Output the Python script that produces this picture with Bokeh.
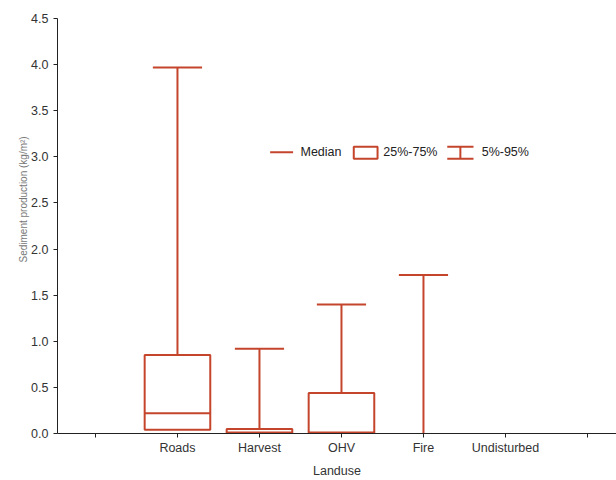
from bokeh.plotting import figure
from bokeh.models import ColumnDataSource, FixedTicker, Title, CustomJSTickFormatter
from bokeh.core.properties import value
from bokeh.embed import file_html
from bokeh.resources import INLINE

# ---- data ----
categories = ["Roads", "Harvest", "OHV", "Fire", "Undisturbed"]
p5 = [0.0, 0.0, 0.0, 0.0, 0.0]
q1 = [0.04, 0.0, 0.0, 0.0, 0.0]
median = [0.22, 0.01, 0.01, 0.0, 0.0]
q3 = [0.85, 0.05, 0.44, 0.0, 0.0]
p95 = [3.97, 0.92, 1.40, 1.72, 0.0]
y_ticks = [0.0, 0.5, 1.0, 1.5, 2.0, 2.5, 3.0, 3.5, 4.0, 4.5]

RED = "#c4452c"
FONT = "Liberation Sans"

xs = list(range(1, len(categories) + 1))
box_w = 0.8
cap_w = 0.6

p = figure(width=616, height=480, output_backend="svg", toolbar_location=None,
           x_range=(-0.463, 6.354), y_range=(0, 4.5),
           min_border_left=57, min_border_right=0, min_border_top=18, min_border_bottom=47)
p.outline_line_color = None
p.xgrid.grid_line_color = None
p.ygrid.grid_line_color = None

# boxes (only where they have height)
bi = [i for i in range(len(xs)) if q3[i] > q1[i]]
box_src = ColumnDataSource(dict(
    left=[xs[i] - box_w / 2 for i in bi], right=[xs[i] + box_w / 2 for i in bi],
    bottom=[q1[i] for i in bi], top=[q3[i] for i in bi]))
p.quad(left="left", right="right", bottom="bottom", top="top", source=box_src,
       fill_color=None, line_color=RED, line_width=2)

# medians (only inside boxes)
med_src = ColumnDataSource(dict(
    x0=[xs[i] - box_w / 2 for i in bi], x1=[xs[i] + box_w / 2 for i in bi],
    y=[median[i] for i in bi]))
p.segment(x0="x0", y0="y", x1="x1", y1="y", source=med_src, line_color=RED, line_width=2)

# whiskers
wi = [i for i in range(len(xs)) if p95[i] > q3[i]]
wh_src = ColumnDataSource(dict(
    x=[xs[i] for i in wi], y0=[q3[i] for i in wi], y1=[p95[i] for i in wi],
    c0=[xs[i] - cap_w / 2 for i in wi], c1=[xs[i] + cap_w / 2 for i in wi]))
p.segment(x0="x", y0="y0", x1="x", y1="y1", source=wh_src, line_color=RED, line_width=2)
p.segment(x0="c0", y0="y1", x1="c1", y1="y1", source=wh_src, line_color=RED, line_width=2)

# ---- legend (manual) ----
ly = 3.05
p.segment(x0=[2.13], y0=[ly], x1=[2.41], y1=[ly], line_color=RED, line_width=2)
p.quad(left=[3.15], right=[3.44], bottom=[2.98], top=[3.11], fill_color=None,
       line_color=RED, line_width=2)
p.segment(x0=[4.45, 4.29, 4.29], y0=[2.98, 3.11, 2.98], x1=[4.45, 4.61, 4.61], y1=[3.11, 3.11, 2.98],
          line_color=RED, line_width=2)
p.text(x=[2.50, 3.51, 4.71], y=[ly, ly, ly], text=["Median", "25%-75%", "5%-95%"],
       text_font=value(FONT), text_font_size="12.5px", text_color="#222222",
       text_baseline="middle", text_align="left")

# ---- axes ----
p.xaxis.ticker = FixedTicker(ticks=list(range(0, len(categories) + 2)))
p.xaxis.major_label_overrides = {0: "", len(categories) + 1: "",
                                 **{x: c for x, c in zip(xs, categories)}}
p.xaxis.axis_label = "Landuse"
p.yaxis.ticker = FixedTicker(ticks=y_ticks)
p.yaxis.formatter = CustomJSTickFormatter(code="return tick.toFixed(1);")

for ax in (p.xaxis[0], p.yaxis[0]):
    ax.axis_line_color = "#222222"
    ax.axis_line_width = 1
    ax.major_tick_line_color = "#222222"
    ax.major_tick_out = 4
    ax.major_tick_in = 0
    ax.minor_tick_line_color = None
    ax.major_label_text_font = FONT
    ax.major_label_text_font_size = "12.5px"
    ax.major_label_text_color = "#333333"
    ax.axis_label_text_font = FONT
    ax.axis_label_text_font_size = "12.5px"
    ax.axis_label_text_font_style = "normal"
    ax.axis_label_text_color = "#333333"
p.xaxis.major_label_standoff = 3
p.xaxis.axis_label_standoff = 6
p.yaxis.major_label_standoff = 5

ylab = Title(text="Sediment production (kg/m²)", align="left", offset=171,
             text_font=FONT, text_font_size="10px", text_color="#777777",
             text_font_style="normal", standoff=0)
p.add_layout(ylab, "left")

open("out.html", "w").write(file_html(p, INLINE))
